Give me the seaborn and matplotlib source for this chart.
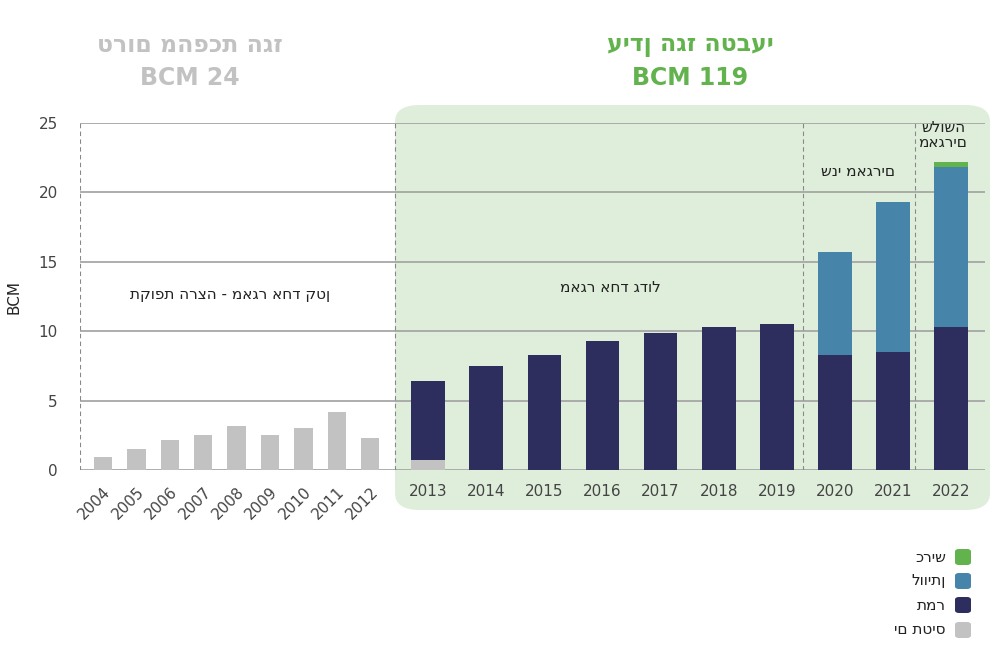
import matplotlib
matplotlib.use("Agg")
import matplotlib.pyplot as plt
import seaborn as sns
import pandas as pd
from matplotlib.patches import FancyBboxPatch

def heb(s):
    return s

gray_years = ["2004","2005","2006","2007","2008","2009","2010","2011","2012"]
gray_vals = [0.95,1.5,2.15,2.5,3.2,2.5,3.0,4.2,2.3]
green_years = ["2013","2014","2015","2016","2017","2018","2019","2020","2021","2022"]
yam_tethys = [0.7,0,0,0,0,0,0,0,0,0]
tamar = [5.7,7.5,8.3,9.3,9.9,10.3,10.5,8.3,8.5,10.3]
leviathan = [0,0,0,0,0,0,0,7.4,10.8,11.5]
karish = [0,0,0,0,0,0,0,0,0,0.4]

c_gray="#c2c2c2"; c_navy="#2d2d5e"; c_blue="#4684aa"; c_green="#62b24e"

gx = [float(i) for i in range(len(gray_years))]
kx = [9.73 + 1.74*i for i in range(len(green_years))]

fig = plt.figure(figsize=(10,6.68), dpi=100)
sns.set_style("white")
plt.rcParams['font.family'] = ['DejaVu Sans']
bg = FancyBboxPatch((395/1000, 1-510/668), 595/1000, 405/668,
    boxstyle="round,pad=0,rounding_size=0.025", transform=fig.transFigure,
    facecolor="#dfeedb", edgecolor="none", zorder=-5)
fig.patches.append(bg)
ax = fig.add_axes([0.08, 1-470/668, 0.905, 347/668])
ax.set_zorder(2)
ax.patch.set_alpha(0)
for y in [0,5,10,15,20,25]:
    ax.axhline(y, color="#a0a0a0", lw=1.2, zorder=1)

t1 = [a+b+c+d for a,b,c,d in zip(yam_tethys,tamar,leviathan,karish)]
t2 = [a+b+c for a,b,c in zip(yam_tethys,tamar,leviathan)]
t3 = [a+b for a,b in zip(yam_tethys,tamar)]
for vals, col in [(t1,c_green),(t2,c_blue),(t3,c_navy),(yam_tethys,c_gray)]:
    sns.barplot(data=pd.DataFrame({"x":kx,"y":vals}), x="x", y="y", native_scale=True,
                color=col, width=0.58, saturation=1, ax=ax, zorder=2, linewidth=0)
sns.barplot(data=pd.DataFrame({"x":gx,"y":gray_vals}), x="x", y="y", native_scale=True,
            color=c_gray, width=0.55, saturation=1, ax=ax, zorder=2, linewidth=0)

ax.set_xlim(-0.69, 26.4)
ax.set_ylim(0, 25)
for xp in [80,395,803,915]:
    ax.axvline((xp-103)/33.4, color="#888888", lw=0.8, ls=(0,(4,3)), zorder=1)
sns.despine(ax=ax, left=True, bottom=True, right=True, top=True)
ax.set_yticks([0,5,10,15,20,25])
ax.set_yticklabels([str(v) for v in [0,5,10,15,20,25]], color="#444444", fontsize=11)
ax.tick_params(axis="y", length=0, pad=16)
ax.set_xticks(gx+kx)
ax.set_xticklabels(gray_years+green_years, fontsize=11, color="#444444")
ax.tick_params(axis="x", length=0, pad=10)
for lab in ax.get_xticklabels()[:9]:
    lab.set_rotation(45); lab.set_ha("right"); lab.set_rotation_mode("anchor")
ax.set_xlabel("")
ax.set_ylabel("BCM", fontsize=11, color="#222222", labelpad=12)

ax.text((230-103)/33.4, 12.3, heb("תקופת הרצה - מאגר אחד קטן"), ha="center", fontsize=11, color="#222")
ax.text((610-103)/33.4, 12.8, heb("מאגר אחד גדול"), ha="center", fontsize=11, color="#222")
ax.text((858-103)/33.4, 21.2, heb("שני מאגרים"), ha="center", fontsize=11, color="#222")
ax.text((943-103)/33.4, 23.3, heb("שלושה")+"\n"+heb("מאגרים"), ha="center", fontsize=11, color="#222", linespacing=1.0)

fig.text(0.19, 1-45/668, heb("טרום מהפכת הגז"), ha="center", va="center", fontsize=17, fontweight="bold", color=c_gray)
fig.text(0.19, 1-78/668, "BCM 24", ha="center", va="center", fontsize=17, fontweight="bold", color=c_gray)
fig.text(0.69, 1-45/668, heb("עידן הגז הטבעי"), ha="center", va="center", fontsize=17, fontweight="bold", color=c_green)
fig.text(0.69, 1-78/668, "BCM 119", ha="center", va="center", fontsize=17, fontweight="bold", color=c_green)

legend = [("כריש",c_green,557),("לוויתן",c_blue,581),("תמר",c_navy,605),("ים תטיס",c_gray,630)]
for name,col,yp in legend:
    fig.patches.append(FancyBboxPatch((955/1000, 1-(yp+8)/668), 16/1000, 16/668,
        boxstyle="round,pad=0,rounding_size=0.004", transform=fig.transFigure, facecolor=col, edgecolor="none"))
    fig.text(946/1000, 1-yp/668, heb(name), ha="right", va="center", fontsize=11, color="#222")

fig.savefig("out.png", dpi=100)
